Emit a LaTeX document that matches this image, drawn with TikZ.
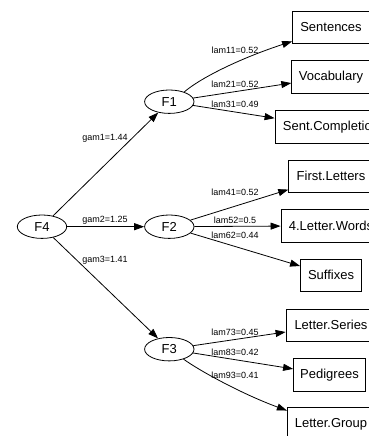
\documentclass[tikz,border=0pt]{standalone}
\usepackage{fontspec}
\setmainfont{Liberation Sans}
\usetikzlibrary{arrows.meta,shapes.geometric}

\begin{document}
\begin{tikzpicture}[x=1pt,y=-1pt,
  latent/.style={ellipse,draw,line width=0.8pt,minimum width=49.4pt,
    minimum height=23.4pt,inner sep=0pt,font=\fontsize{13}{15}\selectfont},
  observed/.style={rectangle,draw,line width=0.8pt,minimum height=32.5pt,
    inner sep=0pt,font=\fontsize{13}{15}\selectfont},
  link/.style={draw,line width=0.8pt,-{Triangle[length=10pt,width=7pt]}},
  coef/.style={inner sep=0pt,font=\fontsize{9}{10}\selectfont}
]
\useasboundingbox (0,0) rectangle (369,436);
\clip (0,0) rectangle (369,436);

% latent factors
\node[latent] (F4) at (42,226.7) {F4};
\node[latent] (F1) at (169.3,101.7) {F1};
\node[latent] (F2) at (169.3,226.7) {F2};
\node[latent] (F3) at (169.3,349.2) {F3};

% observed indicators
\node[observed,minimum width=77pt]  (sen) at (331,27.2)  {Sentences};
\node[observed,minimum width=78.6pt] (voc) at (331,77)   {Vocabulary};
\node[observed,minimum width=112pt] (sco) at (331,127)   {Sent.Completion};
\node[observed,minimum width=84.6pt] (fle) at (331,176.3) {First.Letters};
\node[observed,minimum width=100pt] (flw) at (331,225.8) {4.Letter.Words};
\node[observed,minimum width=61pt]  (suf) at (331,275.3) {Suffixes};
\node[observed,minimum width=90pt]  (lse) at (331,325.3) {Letter.Series};
\node[observed,minimum width=72pt]  (ped) at (329.5,374.7) {Pedigrees};
\node[observed,minimum width=87.4pt] (lgr) at (331,424)  {Letter.Group};

% second-order paths
\draw[link] (F4) -- (F1);
\draw[link] (F4) -- (F2);
\draw[link] (F4) -- (F3);

% loadings
\draw[link] (F1.33) .. controls (199,79) and (238,59) .. (sen.200);
\draw[link] (F1) -- (voc);
\draw[link] (F1) -- (sco);
\draw[link] (F2) -- (fle);
\draw[link] (F2) -- (flw);
\draw[link] (F2) -- (suf);
\draw[link] (F3) -- (lse);
\draw[link] (F3) -- (ped);
\draw[link] (F3.-35) .. controls (200,371) and (242,394) .. (lgr.163);

% coefficients
\node[coef] (g1) at (105,138.3) {gam1=1.44};
\node[coef] (g2) at (105,220)   {gam2=1.25};
\node[coef] (g3) at (105,260)   {gam3=1.41};
\node[coef] (l11) at (235,50.7)  {lam11=0.52};
\node[coef] (l21) at (235,84.3)  {lam21=0.52};
\node[coef] (l31) at (235,104.3) {lam31=0.49};
\node[coef] (l41) at (235,192.7) {lam41=0.52};
\node[coef] (l52) at (235,220)   {lam52=0.5};
\node[coef] (l62) at (235,235)   {lam62=0.44};
\node[coef] (l73) at (235,332.7) {lam73=0.45};
\node[coef] (l83) at (235,352.7) {lam83=0.42};
\node[coef] (l93) at (235,375)   {lam93=0.41};
\end{tikzpicture}
\end{document}
